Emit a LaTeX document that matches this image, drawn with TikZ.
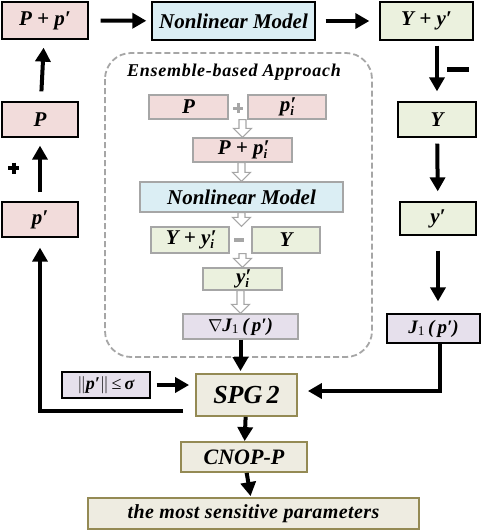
\documentclass[tikz,border=0pt]{standalone}
\usepackage{fontspec}
\setmainfont{Liberation Serif}
\usepackage{xcolor}
\usetikzlibrary{arrows.meta}
\usetikzlibrary{calc}

\definecolor{pinkfill}{HTML}{F2DCDB}
\definecolor{bluefill}{HTML}{DBEEF4}
\definecolor{greenfill}{HTML}{EBF1DE}
\definecolor{purplefill}{HTML}{E6E0EC}
\definecolor{beigefill}{HTML}{EEECE1}
\definecolor{oliveline}{HTML}{948A54}
\definecolor{innerline}{HTML}{A6A6A6}

% prime with a subscript under it
\newcommand{\primesub}[2]{#1\rlap{′}\raisebox{-0.45ex}{\scalebox{0.62}{#2}}}
% hollow block arrow between two anchors
\newcommand{\hollowdown}[2]{%
\draw[hollow] let \p1=#1, \p2=#2 in
  (\x2-3.5pt,\y1) -- (\x2-3.5pt,\y2+9pt) -- (\x2-9pt,\y2+9pt) -- (\p2)
  -- (\x2+9pt,\y2+9pt) -- (\x2+3.5pt,\y2+9pt) -- (\x2+3.5pt,\y1) -- cycle;}

\begin{document}
\begin{tikzpicture}[x=1pt,y=-1pt,
  box/.style={draw=black,line width=1.3pt,inner sep=0pt,font=\fontsize{21}{23}\selectfont\bfseries\itshape},
  inbox/.style={draw=innerline,line width=1.2pt,inner sep=0pt,font=\fontsize{21}{23}\selectfont\bfseries\itshape},
  endbox/.style={draw=oliveline,fill=beigefill,line width=1.8pt,inner sep=0pt,font=\fontsize{21}{23}\selectfont\bfseries\itshape},
  flow/.style={line width=4pt,-{Triangle[length=14pt,width=15pt]}},
  hollow/.style={draw=innerline,fill=white,line width=1.1pt,line join=miter}]
\useasboundingbox (0,0) rectangle (482,531);

% outer loop boxes
\node[box,fill=pinkfill,minimum width=86pt,minimum height=37pt] (pp) at (45,20.5) {P + p′};
\node[box,fill=bluefill,minimum width=163pt,minimum height=38pt] (nm) at (233.5,21) {Nonlinear Model};
\node[box,fill=greenfill,minimum width=93pt,minimum height=38pt] (yy) at (426.5,21) {Y + y′};
\node[box,fill=pinkfill,minimum width=76pt,minimum height=35pt] (bigp) at (40,119.5) {P};
\node[box,fill=pinkfill,minimum width=76pt,minimum height=35pt] (smallp) at (40,219.5) {p′};
\node[box,fill=greenfill,minimum width=78pt,minimum height=35pt] (bigy) at (437,119.5) {Y};
\node[box,fill=greenfill,minimum width=76pt,minimum height=33pt] (smally) at (438,218.5) {y′};
\node[box,fill=purplefill,minimum width=93pt,minimum height=29pt,font=\fontsize{19}{21}\selectfont\bfseries\itshape] (jone) at (433.5,328.5) {J\textsubscript{\upshape\mdseries 1}\,(\,p′)};

% ensemble-based approach
\draw[innerline,line width=1.8pt,dash pattern=on 6pt off 3pt,rounded corners=26pt] (105,53) rectangle (372,357);
\node[font=\fontsize{18}{20}\selectfont\bfseries\itshape\addfontfeature{LetterSpace=4}] (ens) at (234,72) {Ensemble-based Approach};
\node[inbox,fill=pinkfill,minimum width=79pt,minimum height=24pt] (ip) at (188.5,107) {P};
\node[inbox,fill=pinkfill,minimum width=78pt,minimum height=24pt] (ipi) at (287,107) {\primesub{p}{i}};
\node[inbox,fill=pinkfill,minimum width=99pt,minimum height=24pt] (ippi) at (242.5,150) {P + \primesub{p}{i}};
\node[inbox,fill=bluefill,minimum width=203pt,minimum height=30pt] (inm) at (241.5,197) {Nonlinear Model};
\node[inbox,fill=greenfill,minimum width=78pt,minimum height=26pt] (iyy) at (190,240) {Y + \primesub{y}{i}};
\node[inbox,fill=greenfill,minimum width=68pt,minimum height=26pt] (iy) at (286,240) {Y};
\node[inbox,fill=greenfill,minimum width=79pt,minimum height=22pt] (iyi) at (242.5,279) {\primesub{y}{i}};
\node[inbox,fill=purplefill,minimum width=115pt,minimum height=25pt,font=\fontsize{19}{21}\selectfont\bfseries\itshape] (grad) at (240.5,326.5) {$\nabla$J\textsubscript{\upshape\mdseries 1}\,(\,p′)};
\draw[innerline,line width=3pt] (233,108) -- (243,108) (238,103) -- (238,113);
\draw[innerline,line width=4.5pt] (234,240) -- (244,240);
\hollowdown{(ip.south)}{(ippi.north)}
\hollowdown{(ippi.south)}{(inm.north)}
\hollowdown{(inm.south)}{(inm.south |- iyy.north)}
\hollowdown{(iyy.south)}{(iyi.north)}
\hollowdown{(iyi.south)}{(grad.north)}

% optimisation part
\node[endbox,minimum width=101pt,minimum height=42pt,font=\fontsize{26}{28}\selectfont\bfseries\itshape] (spg) at (246.5,395) {SPG\,2};
\node[draw=black,line width=1.3pt,fill=purplefill,inner sep=0pt,minimum width=88pt,minimum height=26pt,font=\fontsize{18}{20}\selectfont] (norm) at (106,385) {$\|$\textbf{\textit{p′}}$\|$\,≤\,\textbf{\textit{σ}}};
\node[endbox,minimum width=126pt,minimum height=30pt,font=\fontsize{22}{24}\selectfont\bfseries\itshape] (cnop) at (244,457) {CNOP-P};
\node[endbox,minimum width=331pt,minimum height=31pt,font=\fontsize{20}{22}\selectfont\bfseries\itshape\addfontfeature{LetterSpace=2}] (final) at (253.5,513.5) {the most sensitive parameters};
\coordinate (loopout) at (183,411);

% connectors
\draw[flow,shorten <=12pt,shorten >=5pt] (pp) -- (nm);
\draw[flow,shorten <=10pt,shorten >=10pt] (nm) -- (yy);
\draw[flow,shorten <=10pt,shorten >=8pt] (bigp) -- (pp);
\draw[flow,shorten <=9pt,shorten >=8pt] (smallp) -- (bigp);
\draw[flow,shorten <=5pt,shorten >=10pt] (yy.south -| bigy.north) -- (bigy.north);
\draw[flow,shorten <=6pt,shorten >=10pt] (bigy) -- (smally);
\draw[flow,shorten <=15pt,shorten >=12pt] (smally) -- (smally |- jone.north);
\draw[flow,shorten >=2pt] (grad) -- (grad |- spg.north);
\draw[flow,shorten <=6pt,shorten >=6pt] (norm) -- (norm -| spg.west);
\draw[flow,shorten >=10pt] ([xshift=6.5pt]jone.south) |- ([yshift=4pt]spg.east);
\draw[flow,shorten >=10pt] (loopout) -| (smallp.south);
\draw[flow] (spg) -- (cnop);
\draw[flow,shorten >=1pt] (cnop) -- (final);

% plus and minus signs
\draw[line width=4pt] (8,168) -- (19,168) (13.5,162.5) -- (13.5,173.5);
\draw[line width=5pt] (447,69) -- (469,69);
\end{tikzpicture}
\end{document}
